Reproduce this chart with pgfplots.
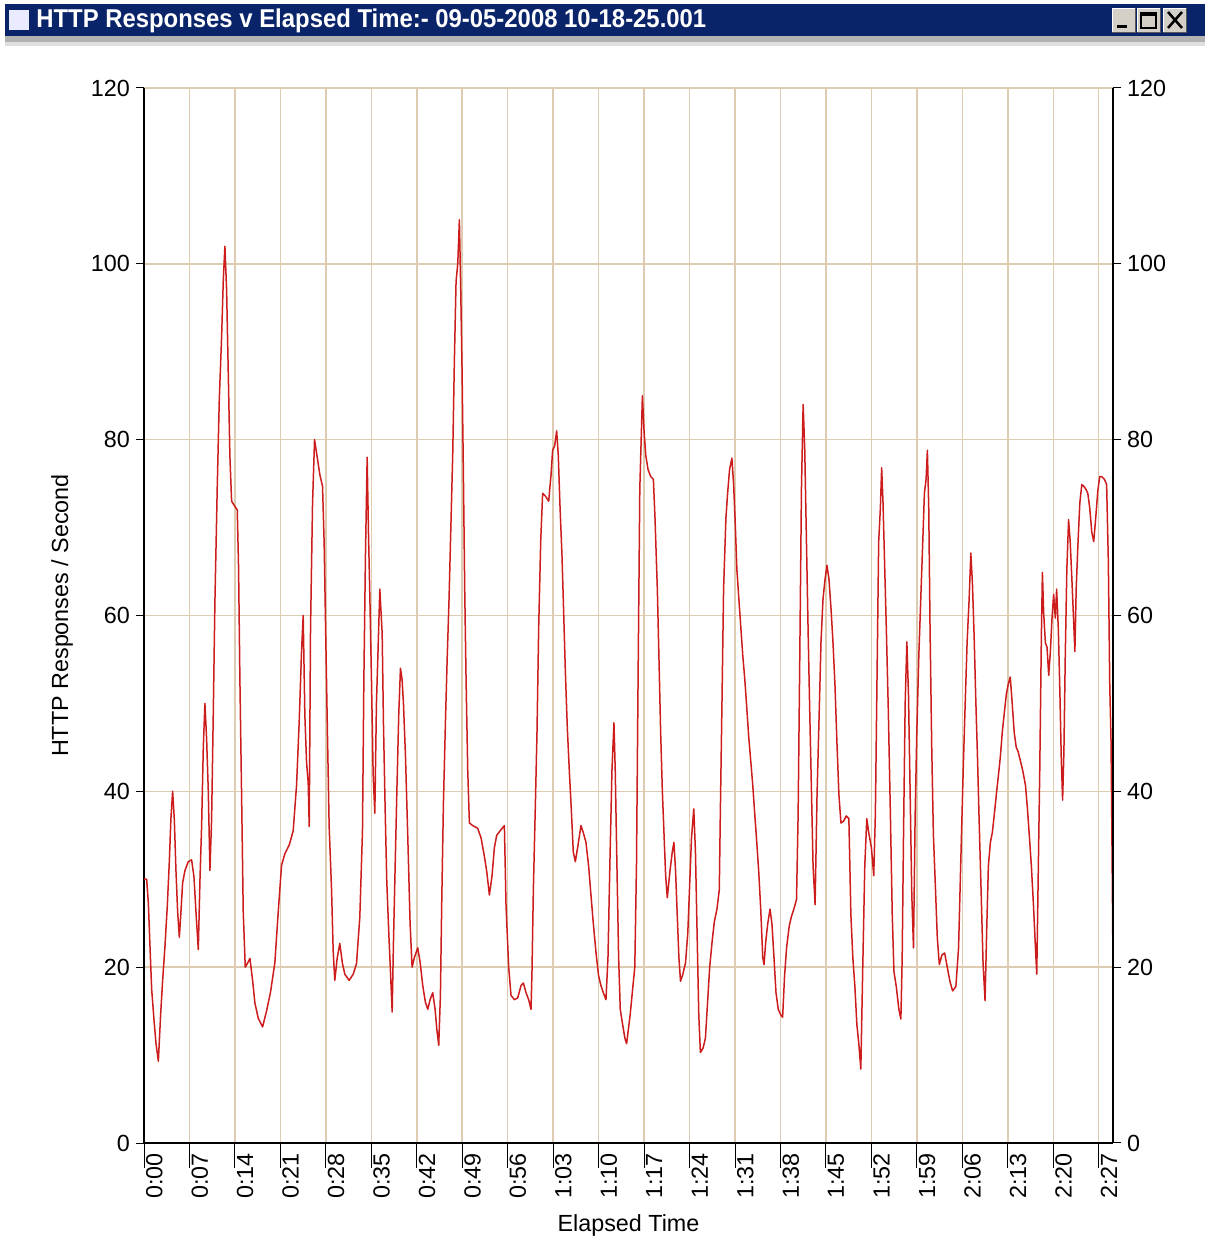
\documentclass[border=0pt]{standalone}
\usepackage{fontspec}
\setmainfont{Liberation Sans}
\usepackage{graphicx}
\usepackage{pgfplots}
\usepackage{pgfplotstable}
\pgfplotsset{compat=1.18}
\definecolor{gridtan}{RGB}{222,204,178}
\definecolor{linered}{RGB}{205,28,28}
\definecolor{navybar}{RGB}{10,36,106}
\definecolor{btngray}{RGB}{212,208,200}

\pgfplotstableread{
t v
0 30
0.41 30
0.67 27.3
0.92 22.4
1.18 17.5
1.54 14
1.85 11.3
2.21 9.3
2.56 14.6
2.87 18.5
3.23 22.4
3.59 27
3.90 32
4.15 37
4.41 40
4.67 36.8
4.92 31
5.18 26.3
5.44 23.4
5.64 25.7
5.95 29.6
6.31 31
6.82 32
7.33 32.2
7.69 30.3
8.00 26.3
8.36 22
8.62 30
8.87 36
9.13 45
9.38 50
9.64 46
9.90 40
10.15 31
10.41 36.8
10.67 49
10.92 61.6
11.28 74.7
11.59 84.5
11.95 91.7
12.21 98.2
12.46 102
12.72 97
12.97 87.8
13.23 78
13.49 73
14.00 72.4
14.36 72
14.56 65.5
14.77 52.5
15.03 39.4
15.28 26.3
15.59 20
15.90 20.4
16.31 21
16.72 18.5
17.08 15.9
17.59 14.2
18.26 13.2
18.87 15
19.49 17.2
20.15 20.5
20.67 26.3
21.18 31.6
21.69 32.9
22.36 33.9
22.97 35.5
23.49 40.7
23.90 48
24.26 56
24.51 60
24.77 48.6
25.03 43.3
25.28 41
25.44 36
25.64 58.4
25.95 72.7
26.26 80
26.67 78
27.08 76
27.49 74.7
27.74 68.2
28.00 57
28.26 46
28.51 36
28.87 29
29.13 21.8
29.38 18.5
29.74 21
30.15 22.7
30.56 20.4
30.92 19.2
31.59 18.5
32.21 19.2
32.72 20.4
33.23 25.7
33.64 35.5
33.85 52.5
34.10 66.9
34.36 78
34.56 69.5
34.77 62.3
35.03 52.5
35.28 42
35.54 37.5
35.79 50
36.05 56.4
36.31 63
36.67 58
36.87 47.8
37.13 38
37.38 29.8
37.69 23.9
37.95 19.5
38.21 14.9
38.41 22.8
38.62 29.8
38.92 39.6
39.23 48.9
39.49 54
39.74 52.7
39.95 50
40.26 44
40.62 34.7
40.97 25
41.28 20
41.64 21.1
42.15 22.2
42.51 20.6
42.92 17.9
43.33 16
43.69 15.2
44.05 16.3
44.46 17.1
44.82 15.2
45.08 13
45.38 11.1
45.64 16.8
45.85 27.7
46.10 38.5
46.41 47.8
46.67 54.8
46.97 61.9
47.23 69.5
47.54 78.5
47.79 89
48.05 98
48.31 100
48.56 105
48.77 97
48.97 88
49.18 76
49.38 63
49.59 52.7
49.85 42.3
50.10 36.4
50.62 36.1
51.38 35.8
51.90 34.7
52.41 32.6
52.77 30.9
53.18 28.2
53.59 30.4
53.95 33.6
54.31 35
54.82 35.5
55.49 36.1
55.74 27.1
56.15 20
56.51 16.8
57.03 16.3
57.54 16.5
58.05 17.9
58.41 18.2
58.82 17.1
59.23 16.3
59.59 15.2
59.74 19.5
59.95 28.8
60.26 38.5
60.51 46.7
60.77 58.6
61.08 68.4
61.38 73.9
61.79 73.6
62.31 73
62.67 76
62.92 78.8
63.23 79.3
63.54 81
63.79 78.2
64.05 72.5
64.36 66.8
64.62 60.3
64.87 53.8
65.18 47.2
65.49 42.3
65.79 38
66.10 33.1
66.41 32
66.77 33.6
67.28 36.1
67.64 35.3
68.05 34.2
68.46 31.5
68.82 28.2
69.18 25
69.59 21.7
70.00 19
70.36 17.9
70.72 17.1
71.13 16.3
71.44 21.1
71.74 32
72.05 42.3
72.36 47.8
72.56 42.3
72.82 31.5
73.08 21.1
73.33 15.2
73.69 13.5
74.05 11.9
74.31 11.3
74.86 14.6
75.21 17.3
75.57 20
75.83 31.7
76.08 53.2
76.34 74.4
76.74 85
77.00 80.9
77.26 78.2
77.61 76.6
78.02 75.8
78.43 75.5
78.68 71.1
79.04 63
79.30 54.8
79.55 46.7
79.81 40.1
80.06 35.3
80.32 30.4
80.57 27.9
80.98 30.9
81.34 33.1
81.59 34.2
81.85 30.9
82.10 26
82.36 21.1
82.61 18.4
82.97 19.2
83.38 20.5
83.73 23.9
84.04 29.8
84.30 34.7
84.65 38
84.91 33.1
85.16 23.9
85.42 14.6
85.67 10.3
86.08 10.8
86.44 11.9
86.80 16.3
87.10 20
87.46 22.8
87.82 25.2
88.22 26.6
88.58 28.8
88.73 37
88.99 50
89.24 63
89.60 71.1
89.86 73.9
90.16 76.6
90.52 77.9
90.78 75
91.03 70.6
91.29 65.2
91.59 61.9
91.90 58.6
92.20 55.4
92.51 52.7
92.82 49.4
93.12 46.1
93.43 43.4
93.73 40.7
94.04 37.4
94.35 34.2
94.65 30.9
94.96 26.6
95.27 21.1
95.47 20.3
95.72 22.8
96.03 24.9
96.39 26.6
96.69 24.9
97.00 21.1
97.31 17.1
97.66 15.2
98.02 14.6
98.33 14.3
98.63 19
98.94 22.2
99.35 24.7
99.70 25.8
100.06 26.6
100.47 27.7
100.72 37.5
100.98 55.8
101.23 74.4
101.49 84
101.74 78.8
102.00 68.4
102.26 58.1
102.51 48.9
102.77 40.1
103.02 31.5
103.33 27.1
103.63 39.6
103.94 48.3
104.24 57
104.55 61.9
104.86 64.1
105.16 65.7
105.47 64.1
105.78 60.8
106.08 57
106.39 52.1
106.69 45.6
107.00 39.6
107.31 36.4
107.71 36.6
108.12 37.2
108.53 36.9
108.84 26
109.14 21.1
109.45 17.9
109.76 13.5
110.06 11.3
110.37 8.4
110.67 20
110.98 31.5
111.29 36.9
111.59 35.3
112.00 33.6
112.36 30.4
112.61 37.4
112.87 53.2
113.12 68.4
113.38 72.2
113.58 76.8
113.79 72.8
114.04 65.7
114.30 58.5
114.60 49.3
114.91 37.9
115.21 26
115.47 19.5
115.83 17.8
116.23 15.2
116.54 14.1
116.74 21.1
116.95 35.3
117.20 50
117.46 57
117.71 51
117.97 39.6
118.22 28.2
118.48 22.2
118.73 37
118.99 46.7
119.30 55.4
119.60 61.9
119.91 68.4
120.16 73.9
120.42 75.5
120.62 78.8
120.83 72.2
121.03 58.5
121.29 45
121.54 35.2
121.85 29.2
122.15 23.3
122.46 20.3
122.87 21.4
123.28 21.6
123.68 20
124.09 18.4
124.50 17.3
125.01 17.8
125.42 22.2
125.78 32.5
126.13 42.3
126.44 50
126.74 57
127.05 61.9
127.31 67.1
127.56 63.6
127.82 57.6
128.07 50.5
128.33 44
128.58 36.9
128.89 28.7
129.19 20.5
129.50 16.2
129.76 24.4
130.01 31.5
130.32 34.2
130.62 35.3
130.93 37.4
131.23 39.6
131.54 41.7
131.85 43.9
132.15 46.7
132.46 48.9
132.77 51
133.07 52.2
133.38 53
133.68 50
133.99 46.7
134.30 45
134.60 44.5
134.96 43.4
135.32 42.3
135.72 40.7
136.03 38
136.34 34.7
136.64 31.4
136.95 27.1
137.26 22.2
137.46 19.2
137.66 29.2
137.92 42.3
138.17 57.6
138.33 64.9
138.53 60.2
138.79 56.9
139.04 56.4
139.30 53.2
139.55 55.8
139.81 59.7
140.06 62.4
140.32 59.7
140.52 63
140.78 58.5
141.03 51
141.23 43.9
141.44 39
141.64 44.5
141.85 55.4
142.09 65.2
142.36 70.9
142.61 68.4
142.87 64.1
143.12 59.7
143.33 55.9
143.53 63
143.79 67.9
144.09 72.8
144.40 74.9
144.70 74.7
145.01 74.4
145.32 73.9
145.62 72.2
145.93 69.5
146.23 68.4
146.54 71.1
146.85 74.1
147.15 75.8
147.46 75.8
147.87 75.5
148.22 74.9
148.48 66.2
148.70 52.1
148.90 45.6
149.10 29.3
149.20 20
}\datatable

\pgfplotsset{
  commonaxis/.style={
    at={(86.4pt,58.8pt)}, anchor=south west,
    scale only axis, width=581.4pt, height=633pt,
    xmin=0, xmax=149.2, ymin=0, ymax=120,
    ytick={0,20,...,120},
    tick align=outside,
    major tick length=5pt,
    tick style={black, line width=0.6pt},
    axis line style={black, line width=0.9pt},
    tick label style={font=\fontsize{14}{16}\selectfont},
    /pgf/number format/assume math mode=true,
  }
}

\begin{document}
\begin{tikzpicture}
\path[use as bounding box] (0pt,0pt) rectangle (723pt,744.6pt);
\begin{scope}[x=0.6pt,y=0.6pt]
% window title bar
\fill[navybar] (5,1205) rectangle (1205,1237);
\fill[gray!60] (5,1199) rectangle (1205,1205);
\fill[gray!25] (5,1195) rectangle (1205,1199);
\fill[white!92!blue] (9,1211) rectangle (29,1231);
\node[anchor=base west, inner sep=0pt, text=white] at (36,1213)
  {\resizebox{402pt}{11.2pt}{\bfseries HTTP Responses v Elapsed Time:- 09-05-2008 10-18-25.001}};
\foreach \bx in {1112,1137,1163} {
  \fill[btngray] (\bx,1209) rectangle (\bx+23,1233);
  \draw[white] (\bx,1209) -- (\bx,1233) -- (\bx+23,1233);
  \draw[gray!70!black] (\bx,1209) -- (\bx+23,1209) -- (\bx+23,1233);
}
\fill[black] (1117,1213) rectangle (1127,1216);
\draw[black, line width=1.2pt] (1141,1213) rectangle (1156,1228);
\draw[black, line width=1.2pt] (1141,1226) -- (1156,1226);
\draw[black, line width=1.5pt] (1168,1213) -- (1182,1229) (1168,1229) -- (1182,1213);
\end{scope}

\begin{axis}[commonaxis,
  axis x line*=bottom, axis y line*=left,
  xtick={0,7,...,147},
  xticklabels={0:00,0:07,0:14,0:21,0:28,0:35,0:42,0:49,0:56,1:03,1:10,1:17,1:24,1:31,1:38,1:45,1:52,1:59,2:06,2:13,2:20,2:27},
  xtick style={/pgfplots/major tick length=15pt},
  xticklabel style={rotate=90, anchor=north east, inner sep=1pt},
  grid=major,
  major grid style={gridtan, line width=0.9pt},
  xlabel={Elapsed Time},
  ylabel={HTTP Responses / Second},
  xlabel style={font=\fontsize{14}{16}\selectfont, at={(axis description cs:0.5,-0.0777)}, anchor=center},
  ylabel style={font=\fontsize{14}{16}\selectfont, at={(axis description cs:-0.0846,0.5)}, anchor=center},
]
\addplot[linered, line width=0.9pt, line join=round] table[x=t, y=v] {\datatable};
\end{axis}
\begin{axis}[commonaxis,
  axis x line=none, axis y line*=right,
]
\addplot[draw=none] coordinates {(0,0)};
\end{axis}
\end{tikzpicture}
\end{document}
